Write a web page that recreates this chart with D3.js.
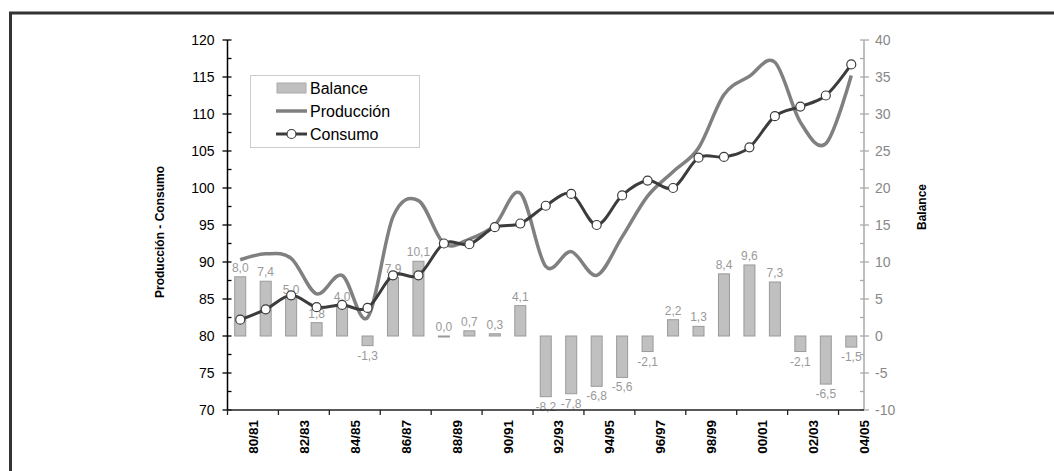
<!DOCTYPE html>
<html><head><meta charset="utf-8">
<script src="https://cdn.jsdelivr.net/npm/d3@7/dist/d3.min.js"></script>
<style>
body{margin:0;background:#fff;}
svg{display:block;font-family:"Liberation Sans",Arial,sans-serif;}
</style></head>
<body><svg id="c" width="1054" height="471"></svg>
<script>
const categories = ["80/81","81/82","82/83","83/84","84/85","85/86","86/87","87/88","88/89","89/90","90/91","91/92","92/93","93/94","94/95","95/96","96/97","97/98","98/99","99/00","00/01","01/02","02/03","03/04","04/05"];
const balance = [8.0,7.4,5.0,1.8,4.0,-1.3,7.9,10.1,0.0,0.7,0.3,4.1,-8.2,-7.8,-6.8,-5.6,-2.1,2.2,1.3,8.4,9.6,7.3,-2.1,-6.5,-1.5];
const consumo = [82.2,83.6,85.5,83.9,84.2,83.8,88.2,88.2,92.5,92.4,94.7,95.2,97.6,99.2,95.0,99.0,101.0,100.0,104.1,104.2,105.5,109.7,111.0,112.5,116.7];
const produccion = [90.3,91.1,90.5,85.7,88.2,82.5,96.1,98.3,92.5,93.1,95.0,99.3,89.4,91.4,88.2,93.4,98.9,102.2,105.4,112.6,115.1,117.0,108.9,106.0,115.2];
const leftTicks = [70,75,80,85,90,95,100,105,110,115,120];
const rightTicks = [-10,-5,0,5,10,15,20,25,30,35,40];
const xLabels = ["80/81","82/83","84/85","86/87","88/89","90/91","92/93","94/95","96/97","98/99","00/01","02/03","04/05"];

const svg = d3.select("#c");
const X0 = 227.5, X1 = 864, YT = 40, YB = 410;

// frame
svg.append("rect").attr("x",10.5).attr("y",13).attr("width",1060).attr("height",480)
  .attr("fill","none").attr("stroke","#333").attr("stroke-width",3);

const x = d3.scaleBand().domain(categories).range([X0,X1]).paddingInner(0).paddingOuter(0);
const yL = d3.scaleLinear().domain([70,120]).range([YB,YT]);
const yR = d3.scaleLinear().domain([-10,40]).range([YB,YT]);
const cx = d => x(d) + x.bandwidth()/2;

// bars
const barW = 11;
svg.append("g").selectAll("rect").data(categories).join("rect")
  .attr("x",(d)=>cx(d)-barW/2)
  .attr("y",(d,i)=>yR(Math.max(0,balance[i])))
  .attr("width",barW)
  .attr("height",(d,i)=>Math.max(1,Math.abs(yR(balance[i])-yR(0))))
  .attr("fill","#c0c0c0").attr("stroke","#9a9a9a").attr("stroke-width",1);

// bar labels
const fmt = v => v.toFixed(1).replace(".",",");
svg.append("g").selectAll("text").data(categories).join("text")
  .attr("x",d=>cx(d))
  .attr("y",(d,i)=> balance[i]>=0 ? yR(balance[i])-5 : yR(balance[i])+14)
  .attr("text-anchor","middle").attr("font-size",12).attr("fill","#999")
  .text((d,i)=>fmt(balance[i]));

// lines
const line = d3.line().curve(d3.curveCardinal.tension(0));
svg.append("path").attr("d",line(categories.map((d,i)=>[cx(d),yL(produccion[i])])))
  .attr("fill","none").attr("stroke","#808080").attr("stroke-width",3.5);
svg.append("path").attr("d",line(categories.map((d,i)=>[cx(d),yL(consumo[i])])))
  .attr("fill","none").attr("stroke","#3c3c3c").attr("stroke-width",3);
svg.append("g").selectAll("circle").data(categories).join("circle")
  .attr("cx",d=>cx(d)).attr("cy",(d,i)=>yL(consumo[i])).attr("r",4.5)
  .attr("fill","#fff").attr("stroke","#3c3c3c").attr("stroke-width",1.2);

// left axis
const gL = svg.append("g").attr("transform",`translate(${X0},0)`);
gL.append("line").attr("y1",YT).attr("y2",YB).attr("stroke","#000").attr("stroke-width",1.5);
leftTicks.forEach(t=>{
  gL.append("line").attr("x1",-5).attr("x2",4).attr("y1",yL(t)).attr("y2",yL(t)).attr("stroke","#000").attr("stroke-width",1.3);
  gL.append("text").attr("x",-13).attr("y",yL(t)).attr("dy","0.35em").attr("text-anchor","end")
    .attr("font-size",14).attr("fill","#000").text(t);
});
leftTicks.slice(0,-1).forEach(t=>{
  gL.append("line").attr("x1",0).attr("x2",4).attr("y1",yL(t+2.5)).attr("y2",yL(t+2.5)).attr("stroke","#000").attr("stroke-width",1.3);
});

// right axis
const gR = svg.append("g").attr("transform",`translate(${X1},0)`);
gR.append("line").attr("y1",YT).attr("y2",YB).attr("stroke","#aaa").attr("stroke-width",1.5);
rightTicks.forEach(t=>{
  gR.append("line").attr("x1",-4).attr("x2",5).attr("y1",yR(t)).attr("y2",yR(t)).attr("stroke","#aaa").attr("stroke-width",1.3);
  gR.append("text").attr("x",11).attr("y",yR(t)).attr("dy","0.35em").attr("text-anchor","start")
    .attr("font-size",14).attr("fill","#888").text(t);
});
rightTicks.slice(0,-1).forEach(t=>{
  gR.append("line").attr("x1",-4).attr("x2",0).attr("y1",yR(t+2.5)).attr("y2",yR(t+2.5)).attr("stroke","#aaa").attr("stroke-width",1.3);
});

// bottom axis
const gB = svg.append("g");
gB.append("line").attr("x1",X0).attr("x2",X1).attr("y1",YB).attr("y2",YB).attr("stroke","#222").attr("stroke-width",1.5);
for(let i=0;i<=categories.length;i+=2){
  const xv = i<categories.length ? x(categories[i]) : X1;
  gB.append("line").attr("x1",xv).attr("x2",xv).attr("y1",YB).attr("y2",YB+5).attr("stroke","#222").attr("stroke-width",1.3);
}
xLabels.forEach((lab,k)=>{
  const idx = categories.indexOf(lab);
  const xv = idx+1<categories.length ? x(categories[idx+1]) : X1;
  gB.append("text").attr("transform",`translate(${xv+5},${YB+10}) rotate(-90)`)
    .attr("text-anchor","end").attr("font-size",13.5).attr("font-weight","bold").attr("fill","#000").text(lab);
});

// axis titles
svg.append("text").attr("transform","translate(164,232) rotate(-90)").attr("text-anchor","middle")
  .attr("font-size",12).attr("font-weight","bold").text("Producción - Consumo");
svg.append("text").attr("transform","translate(926,207) rotate(-90)").attr("text-anchor","middle")
  .attr("font-size",12).attr("font-weight","bold").text("Balance");

// legend
const lg = svg.append("g");
lg.append("rect").attr("x",250.5).attr("y",75.5).attr("width",169).attr("height",72)
  .attr("fill","#fff").attr("stroke","#ccc");
const items = ["Balance","Producción","Consumo"];
items.forEach((name,i)=>{
  const yy = 88 + i*23;
  if(i===0){
    lg.append("rect").attr("x",277).attr("y",yy-5).attr("width",29).attr("height",10).attr("fill","#c0c0c0").attr("stroke","#aaa");
  } else if(i===1){
    lg.append("line").attr("x1",276).attr("x2",307).attr("y1",yy).attr("y2",yy).attr("stroke","#808080").attr("stroke-width",3.5);
  } else {
    lg.append("line").attr("x1",276).attr("x2",307).attr("y1",yy).attr("y2",yy).attr("stroke","#3c3c3c").attr("stroke-width",3);
    lg.append("circle").attr("cx",291.5).attr("cy",yy).attr("r",4.5).attr("fill","#fff").attr("stroke","#3c3c3c").attr("stroke-width",1.2);
  }
  lg.append("text").attr("x",310).attr("y",yy).attr("dy","0.35em").attr("font-size",16).attr("fill","#000").text(name);
});
</script></body></html>
